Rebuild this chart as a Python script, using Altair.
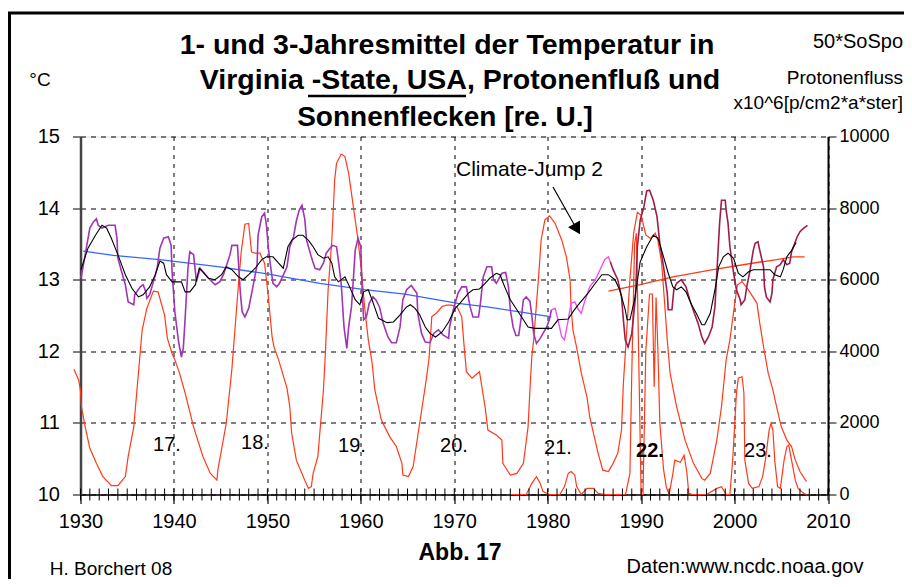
import altair as alt
import pandas as pd

# ---------------- data ----------------
# 1-year mean temperature (°C), three colour segments
t1a_year = [1930.05,1930.5,1931.0,1931.4,1931.7,1931.9,1932.3,1932.6,1933.0,1933.7,1933.9,1934.0,1934.4,1934.8,1935.1,1935.7,1935.8,1936.4,1936.7,1937.0,1937.1,1937.4,1937.8,1938.2,1938.5,1938.9,1939.4,1939.7,1939.8,1940.1,1940.5,1940.8,1941.0,1941.2,1941.5,1941.7,1942.1,1942.3,1942.4,1942.8,1943.1,1943.7,1944.4,1944.9,1945.3,1946.0,1946.2,1946.8,1946.9,1947.1,1947.3,1947.6,1948.0,1948.5,1948.9,1949.0,1949.4,1949.7,1949.9,1950.1,1950.3,1950.6,1951.0,1951.3,1952.1,1952.4,1952.8,1953.1,1953.4,1953.7,1954.0,1954.2,1954.7,1955.1,1955.6,1956.0,1956.3,1956.7,1957.0,1957.4,1957.6,1957.9,1958.2,1958.5,1958.7,1959.0,1959.2,1959.4,1959.7,1960.0,1960.1,1960.3,1960.6,1960.9,1961.3,1961.6,1962.0,1962.4,1962.9,1963.3,1963.8,1964.2,1964.5,1964.9,1965.4,1966.0,1966.1,1966.5,1966.9,1967.4,1967.8,1968.3,1968.8,1969.4,1969.5,1969.9,1970.4,1970.8,1971.3,1971.7,1972.0,1972.6,1972.8,1973.1,1973.5,1974.0,1974.2,1974.5,1975.1,1975.5,1975.8,1976.0,1976.3,1976.6,1976.9,1977.2,1977.4,1977.7,1978.1,1978.3,1978.5,1978.8,1979.2,1979.5,1979.9,1980.2,1980.4]
t1a_val = [13.02,13.35,13.72,13.81,13.85,13.76,13.72,13.74,13.76,13.76,13.58,13.30,13.11,12.93,12.69,12.65,12.79,12.90,12.93,12.83,12.74,12.79,12.97,13.16,13.44,13.58,13.60,13.48,13.11,12.55,12.13,11.92,12.04,12.46,13.16,13.39,13.35,13.11,12.97,13.16,13.11,13.02,12.93,12.97,13.07,13.35,13.48,13.48,13.25,12.83,12.55,12.48,12.60,12.93,13.21,13.62,13.88,13.93,13.76,13.45,13.23,12.95,12.90,12.95,13.18,13.46,13.60,13.82,13.97,14.04,13.85,13.55,13.32,13.16,13.14,13.23,13.37,13.44,13.48,13.46,13.27,12.95,12.34,12.04,12.34,12.62,13.00,13.41,13.58,13.46,13.00,12.44,12.48,12.67,12.76,12.72,12.62,12.39,12.20,12.12,12.12,12.34,12.72,12.86,12.92,12.81,12.53,12.25,12.13,12.12,12.25,12.30,12.23,12.18,12.34,12.58,12.81,12.90,12.90,12.62,12.48,12.48,12.67,13.04,13.18,13.18,13.00,12.95,13.09,13.10,12.90,12.58,12.34,12.22,12.22,12.50,12.72,12.76,12.70,12.50,12.25,12.11,12.18,12.25,12.34,12.45,12.58]
t1b_year = [1980.4,1980.8,1981.1,1981.5,1981.8,1982.2,1982.5,1982.9,1983.3,1983.6,1983.9,1984.5,1985.1,1985.6,1986.1,1986.5,1986.7]
t1b_val = [12.58,12.60,12.44,12.20,12.16,12.44,12.67,12.69,12.58,12.53,12.67,12.90,13.00,13.14,13.28,13.32,13.25]
t1c_year = [1986.7,1987.0,1987.5,1987.9,1988.1,1988.3,1988.6,1989.0,1989.4,1989.6,1989.9,1990.3,1990.6,1990.9,1991.3,1991.7,1992.0,1992.4,1992.8,1992.9,1993.3,1993.5,1993.8,1994.3,1994.8,1995.2,1995.7,1996.1,1996.5,1996.8,1997.2,1997.6,1997.9,1998.1,1998.4,1998.6,1999.0,1999.1,1999.3,1999.5,1999.9,2000.2,2000.6,2000.7,2001.1,2001.3,2001.6,2002.0,2002.2,2002.5,2002.7,2003.1,2003.2,2003.4,2003.8,2004.0,2004.1,2004.5,2004.9,2005.2,2005.6,2005.9,2006.1,2006.5,2006.7,2007.0,2007.4,2007.8]
t1c_val = [13.25,13.14,13.00,12.76,12.44,12.16,12.06,12.25,12.76,13.46,13.83,14.02,14.24,14.25,14.11,13.88,13.51,13.18,12.81,12.58,12.58,12.86,12.95,13.00,12.90,12.72,12.53,12.39,12.20,12.11,12.20,12.34,12.62,13.09,13.79,14.11,14.11,13.97,13.79,13.46,13.09,12.86,12.72,12.65,12.72,12.90,13.09,13.41,13.51,13.53,13.41,13.18,12.90,12.76,12.69,12.81,13.00,13.18,13.21,13.28,13.21,13.23,13.39,13.53,13.60,13.67,13.72,13.76]

# 3-year mean temperature (°C)
t3_year = [1930.05,1930.8,1931.6,1932.3,1932.8,1933.3,1934.0,1934.8,1935.5,1936.2,1936.7,1937.4,1938.0,1938.5,1938.9,1939.2,1939.8,1940.8,1941.2,1941.7,1942.3,1942.7,1943.1,1943.7,1944.4,1945.1,1945.6,1946.2,1946.9,1947.4,1948.0,1948.7,1949.4,1949.9,1950.6,1951.2,1951.7,1952.2,1952.6,1953.3,1953.8,1954.4,1954.9,1955.4,1956.0,1956.5,1956.9,1957.2,1957.6,1958.3,1958.8,1959.4,1959.9,1960.3,1960.8,1961.2,1961.9,1962.8,1963.5,1964.2,1964.9,1965.3,1965.8,1966.3,1966.9,1967.4,1968.0,1968.7,1969.4,1970.1,1970.6,1971.5,1972.0,1972.7,1973.3,1973.8,1974.5,1974.9,1975.4,1976.0,1976.7,1977.4,1977.9,1978.6,1980.4,1981.1,1982.2,1982.7,1983.1,1983.4,1984.3,1985.1,1985.8,1986.5,1987.2,1987.7,1988.3,1988.5,1988.8,1989.3,1989.9,1990.6,1991.0,1991.3,1991.8,1992.4,1992.9,1993.4,1993.8,1994.3,1994.8,1995.4,1995.9,1996.5,1996.8,1997.4,1997.9,1998.3,1998.8,1999.3,1999.9,2000.4,2000.9,2001.5,2002.0,2003.8,2004.3,2004.9,2005.2,2005.6,2006.1,2006.6]
t3_val = [13.14,13.44,13.62,13.76,13.72,13.58,13.35,13.07,12.88,12.76,12.79,12.90,13.07,13.26,13.23,13.07,12.97,12.97,12.83,12.83,12.93,13.16,13.11,13.02,13.00,13.07,13.18,13.14,13.04,13.00,13.07,13.16,13.28,13.32,13.32,13.23,13.16,13.46,13.55,13.62,13.62,13.55,13.46,13.35,13.30,13.32,13.23,13.04,12.97,13.04,12.90,12.72,12.65,12.83,12.86,12.72,12.46,12.40,12.41,12.51,12.62,12.65,12.60,12.51,12.34,12.25,12.20,12.27,12.41,12.60,12.67,12.81,12.86,12.87,12.95,13.02,13.09,13.07,12.90,12.72,12.58,12.44,12.34,12.32,12.32,12.44,12.45,12.55,12.62,12.67,12.81,12.95,13.07,13.07,13.00,12.86,12.58,12.44,12.44,12.72,13.25,13.46,13.55,13.62,13.58,13.32,13.09,12.90,12.86,12.90,12.83,12.65,12.53,12.37,12.37,12.53,12.86,13.18,13.32,13.37,13.30,13.09,13.04,13.11,13.14,13.14,13.07,13.04,13.14,13.32,13.41,13.52]

# trend lines (°C)
trend_a_year = [1930.3,1933.5,1938.5,1944.9,1950.0,1955.6,1960.4,1964.7,1970.4,1973.5,1977.0,1980.4]
trend_a_val = [13.40,13.34,13.28,13.18,13.08,12.95,12.86,12.80,12.67,12.62,12.55,12.48]
trend_b_year = [1986.5,1989.9,1993.4,1997.7,2002.4,2004.5,2006.3,2007.5]
trend_b_val = [12.84,12.93,13.04,13.14,13.24,13.28,13.32,13.32]

# 50 * sunspot number (right axis)
ss_year = [1929.3,1929.8,1930.0,1930.1,1930.5,1931.0,1931.7,1932.4,1933.3,1934.0,1934.8,1935.1,1935.7,1936.2,1936.6,1937.1,1937.8,1938.3,1939.0,1939.3,1939.8,1940.1,1940.6,1941.2,1942.1,1943.1,1943.9,1944.6,1944.7,1945.6,1946.2,1946.9,1947.2,1947.6,1948.0,1948.3,1948.7,1949.2,1949.7,1950.1,1950.5,1950.7,1951.2,1952.1,1952.4,1952.6,1953.1,1954.0,1954.4,1954.7,1954.9,1955.4,1956.0,1956.2,1956.5,1956.9,1957.2,1957.4,1957.9,1958.3,1958.7,1959.2,1959.7,1960.1,1960.4,1960.8,1961.2,1961.5,1962.2,1963.1,1963.8,1964.4,1964.5,1965.1,1965.6,1966.3,1967.0,1967.3,1967.6,1968.1,1968.7,1969.2,1969.7,1970.3,1970.8,1971.0,1971.3,1971.9,1972.7,1972.9,1973.3,1973.6,1974.5,1975.1,1975.2,1976.0,1976.7,1977.4,1977.9,1978.1,1978.3,1978.5,1979.0,1979.3,1979.7,1980.2,1980.8,1981.5,1982.0,1982.4,1982.5,1982.7,1983.1,1983.6,1984.2,1984.5,1984.9,1985.4,1985.9,1986.5,1987.0,1987.5,1987.9,1988.1,1988.4,1988.8,1989.2,1989.6,1990.0,1990.5,1991.0,1991.5,1991.8,1992.2,1992.5,1992.8,1993.1,1993.8,1994.7,1995.6,1996.5,1996.8,1997.4,1998.1,1998.6,1999.1,1999.5,2000.0,2000.3,2000.8,2001.5,2002.4,2002.7,2003.1,2003.6,2004.1,2004.5,2005.0,2005.6,2006.1,2006.5,2007.0,2007.7]
ss_val = [3500,3200,2900,2450,1890,1290,870,500,250,250,500,1060,1890,3390,4600,5200,5680,5660,5010,4360,3940,3760,3390,2830,1890,1060,590,400,680,1990,3500,5850,6780,7550,7570,6780,6740,6740,6460,5530,4410,4130,3760,2970,2450,1710,960,400,170,220,590,1060,2920,3900,5710,7110,8780,9250,9510,9440,8970,8040,7110,6180,5250,4320,3700,2920,2080,1610,1340,870,545,500,780,1990,3200,3800,4970,5070,5250,5290,5290,5240,4970,4320,3430,3250,3430,3100,2450,1800,1660,1520,870,545,590,870,1890,2920,3850,4320,5990,7110,7670,7780,7570,7110,6640,5990,5250,4600,4100,3390,2730,2170,1710,1150,680,640,870,1150,1800,3100,4320,6000,7300,7880,7800,7250,7150,7300,7100,6460,5400,4300,3390,2450,1520,870,450,400,590,1520,2450,3760,4320,5300,5850,5950,5710,5340,4780,4130,3390,2920,2450,1890,1520,1340,960,640,360]

# proton flux x10^6 [p/cm2*a*ster] (right axis)
pf_year = [1976.0,1977.7,1978.3,1978.8,1979.2,1979.5,1980.2,1981.3,1981.8,1982.2,1982.5,1982.9,1983.1,1983.6,1984.2,1984.9,1985.4,1986.1,1987.3,1988.3,1988.4,1988.8,1989.0,1989.3,1989.5,1989.8,1990.0,1990.2,1990.5,1990.9,1991.2,1991.4,1991.6,1991.8,1992.0,1992.4,1992.7,1993.0,1993.4,1993.6,1994.2,1994.6,1994.9,1995.1,1995.5,1997.0,1998.1,1998.6,1999.1,1999.5,1999.8,2000.2,2000.4,2000.8,2001.0,2001.1,2001.5,2001.9,2002.6,2003.0,2003.3,2003.7,2003.9,2004.1,2004.3,2004.6,2004.9,2005.3,2005.6,2005.8,2006.1,2006.5,2006.8,2007.4,2007.7]
pf_val = [0,0,310,500,310,80,0,0,220,590,640,545,220,0,170,170,30,0,0,0,80,590,3390,7000,7300,3000,0,0,4000,5600,5600,3000,5500,4000,2000,700,200,0,590,960,900,1100,600,30,0,0,170,220,0,0,960,2830,3250,3290,2830,960,310,170,220,500,960,1800,1990,1800,960,220,170,960,1340,1380,960,400,170,30,0]

year_ticks = list(range(1930, 2011, 10))
minor_years = list(range(1930, 2011))
temp_ticks = [10, 11, 12, 13, 14, 15]
right_ticks = [0, 2000, 4000, 6000, 8000, 10000]

cycle_labels = ["17.", "18.", "19.", "20.", "21.", "22.", "23."]

# ---------------- layout ----------------
PX0, PY0 = 80.5, 136.5          # page position of plot origin
W, H = 747.5, 358
FONT = "Liberation Sans"
MINOR_HALF = 168                # half length of the yearly ticks, in right-axis units (~6 px)

def px(x):
    return x - PX0

def py(y):
    return y - PY0

xscale = alt.Scale(domain=[1930, 2010], nice=False, zero=False)
yl_scale = alt.Scale(domain=[10, 15], nice=False, zero=False)
yr_scale = alt.Scale(domain=[0, 10000], nice=False)

x_axis = alt.Axis(orient="bottom", values=year_ticks, format="d", grid=True, gridDash=[4, 5],
                  gridColor="black", gridOpacity=1, gridWidth=1, domainColor="black", domainWidth=1.5,
                  tickColor="black", tickSize=9, tickWidth=1.2, labelFontSize=20, labelPadding=8,
                  labelColor="black", labelFont=FONT, labelFlush=False, labelOverlap=False, title=None)
yl_axis = alt.Axis(values=temp_ticks, grid=True, gridDash=[5, 5], gridColor="black", gridOpacity=1,
                   gridWidth=1, domainColor="#444444", domainWidth=2.5, tickColor="black", tickSize=8,
                   labelFontSize=20, labelPadding=13, labelColor="black", labelFont=FONT,
                   labelFlush=False, title=None)
yr_axis = alt.Axis(values=right_ticks, format="d", orient="right", grid=False, domainColor="black",
                   domainWidth=2, tickColor="black", tickSize=8, labelFontSize=18, labelPadding=3,
                   labelColor="black", labelFont=FONT, labelFlush=False, title=None)


def line_left(years, vals, color, width):
    df = pd.DataFrame({"year": years, "v": vals})
    return alt.Chart(df).mark_line(color=color, strokeWidth=width).encode(
        x=alt.X("year:Q", scale=xscale, axis=x_axis),
        y=alt.Y("v:Q", scale=yl_scale, axis=yl_axis),
    )


def line_right(years, vals, color, width):
    df = pd.DataFrame({"year": years, "v": vals})
    return alt.Chart(df).mark_line(color=color, strokeWidth=width, clip=False).encode(
        x=alt.X("year:Q", scale=xscale, axis=x_axis),
        y=alt.Y("v:Q", scale=yr_scale, axis=yr_axis),
    )


def text(t, x, y, size, weight="normal", align="center", baseline="middle"):
    return alt.Chart(pd.DataFrame({"t": [t]})).mark_text(
        fontSize=size, fontWeight=weight, align=align, baseline=baseline, font=FONT, color="black"
    ).encode(text="t:N", x=alt.value(px(x)), y=alt.value(py(y)))


RED = "#ff3a1a"

# yearly minor ticks crossing the baseline: one short vertical 2-point line per year
minor_df = pd.DataFrame({
    "year": [y for y in minor_years for _ in (0, 1)],
    "v": [-MINOR_HALF, MINOR_HALF] * len(minor_years),
})
minor = alt.Chart(minor_df).mark_line(color="black", strokeWidth=1, clip=False).encode(
    x=alt.X("year:Q", scale=xscale, axis=x_axis),
    y=alt.Y("v:Q", scale=yr_scale, axis=yr_axis),
    detail="year:N",
)

right_group = alt.layer(
    line_right(ss_year, ss_val, RED, 1.2),
    line_right(pf_year, pf_val, RED, 1.2),
    minor,
)

arrow_line = alt.Chart(pd.DataFrame({"a": [0]})).mark_rule(color="black", strokeWidth=1.2).encode(
    x=alt.value(px(553)), y=alt.value(py(187)), x2=alt.value(px(575)), y2=alt.value(py(226)))
arrow_head = alt.Chart(pd.DataFrame({"a": [0]})).mark_point(
    shape="triangle-up", filled=True, size=190, angle=150, color="black", opacity=1
).encode(x=alt.value(px(577)), y=alt.value(py(229)))

# outer frame
frame_left = alt.Chart(pd.DataFrame({"a": [0]})).mark_rule(color="black", strokeWidth=3).encode(
    x=alt.value(px(9.5)), y=alt.value(py(12)), y2=alt.value(py(600)))
frame_top = alt.Chart(pd.DataFrame({"a": [0]})).mark_rule(color="black", strokeWidth=3).encode(
    x=alt.value(px(8)), x2=alt.value(px(920)), y=alt.value(py(13)))

# underline of "-State, USA"
underline = alt.Chart(pd.DataFrame({"a": [0]})).mark_rule(color="black", strokeWidth=2.5).encode(
    x=alt.value(px(308)), x2=alt.value(px(466)), y=alt.value(py(96)))

cycle_pos = [(167, 445), (255, 443), (352, 446), (454, 446), (558, 448), (650, 451), (758, 451)]
cycle_layers = []
for lab, (cx, cy) in zip(cycle_labels, cycle_pos):
    cycle_layers.append(text(lab, cx, cy, 20, weight="bold" if lab == "22." else "normal"))

left_group = alt.layer(
    line_left(trend_a_year, trend_a_val, "#3366ff", 1.3),
    line_left(trend_b_year, trend_b_val, RED, 1.3),
    line_left(t1a_year, t1a_val, "#a035b5", 1.6),
    line_left(t1b_year, t1b_val, "#f050f0", 1.4),
    line_left(t1c_year, t1c_val, "#a01c4c", 1.6),
    line_left(t3_year, t3_val, "black", 1.1),
    arrow_line,
    arrow_head,
    frame_left,
    frame_top,
    underline,
    text("1- und 3-Jahresmittel der Temperatur in", 447, 45, 28.5, "bold"),
    text("Virginia -State, USA, Protonenfluß und", 460, 80, 28.5, "bold"),
    text("Sonnenflecken [re. U.]", 445, 118, 28, "bold"),
    text("°C", 40, 80, 19),
    text("50*SoSpo", 903, 42, 20, align="right"),
    text("Protonenfluss", 903, 78, 19, align="right"),
    text("x10^6[p/cm2*a*ster]", 903, 103, 19, align="right"),
    text("Climate-Jump 2", 456, 170, 21, align="left"),
    text("Abb. 17", 460, 553, 23, "bold"),
    text("H. Borchert 08", 111, 569, 19),
    text("Daten:www.ncdc.noaa.gov", 745, 567, 20),
    *cycle_layers,
)

chart = alt.layer(right_group, left_group).resolve_scale(y="independent").properties(
    width=W, height=H,
    padding={"left": PX0 - 8, "top": PY0 - 8, "right": 896 - (PX0 - 8) - W, "bottom": 571 - (PY0 - 8) - H},
    autosize=alt.AutoSizeParams(type="none"),
    background="white",
).configure_view(stroke=None).configure(font=FONT)

chart.save("out.html", embed_options={"renderer": "svg", "actions": False})
